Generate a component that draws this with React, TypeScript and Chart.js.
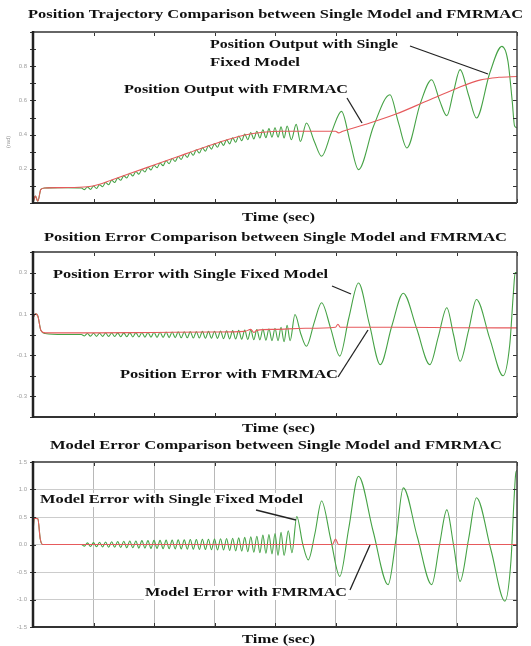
import React, { useEffect, useRef } from "react";
import { Chart, registerables } from "chart.js";
Chart.register(...registerables);

// ---------- data (time in sec, value) ----------
const timeTicks = [0, 1, 2, 3, 4, 5, 6, 7, 8];

const posFmrmac: [number, number][] = [
  [0, 0], [0.04, 0.04], [0.08, 0.01], [0.13, 0.08], [0.2, 0.088], [0.5, 0.09], [0.9, 0.095],
  [1.1, 0.11], [1.3, 0.135], [1.6, 0.172], [2.0, 0.222], [2.4, 0.272], [2.8, 0.322],
  [3.2, 0.368], [3.5, 0.398], [3.8, 0.414], [4.1, 0.42], [4.5, 0.42], [5.0, 0.42],
  [5.05, 0.41], [5.12, 0.42], [5.5, 0.46], [6.0, 0.52], [6.5, 0.595], [7.0, 0.67],
  [7.4, 0.72], [7.7, 0.735], [8.0, 0.74],
];

const posFixed: [number, number][] = [
  [0, 0], [0.04, 0.04], [0.08, 0.01], [0.13, 0.08], [0.2, 0.088], [0.5, 0.09], [0.8, 0.088],
  [0.85, 0.078], [0.9, 0.094], [0.95, 0.079], [1.0, 0.099], [1.05, 0.085], [1.1, 0.107],
  [1.15, 0.095], [1.2, 0.12], [1.25, 0.107], [1.3, 0.133], [1.35, 0.12], [1.4, 0.146],
  [1.45, 0.133], [1.5, 0.16], [1.55, 0.146], [1.6, 0.174], [1.65, 0.158], [1.7, 0.184],
  [1.75, 0.168], [1.8, 0.196], [1.85, 0.181], [1.9, 0.209], [1.95, 0.193], [2.0, 0.221],
  [2.05, 0.206], [2.1, 0.234], [2.15, 0.218], [2.2, 0.247], [2.25, 0.23], [2.3, 0.26],
  [2.35, 0.243], [2.4, 0.272], [2.45, 0.255], [2.5, 0.285], [2.55, 0.267], [2.6, 0.298],
  [2.65, 0.279], [2.7, 0.311], [2.75, 0.292], [2.8, 0.323], [2.85, 0.303], [2.9, 0.336],
  [2.95, 0.315], [3.0, 0.347], [3.05, 0.326], [3.1, 0.359], [3.15, 0.337], [3.2, 0.37],
  [3.25, 0.346], [3.3, 0.381], [3.35, 0.355], [3.4, 0.392], [3.45, 0.364], [3.5, 0.403],
  [3.55, 0.37], [3.6, 0.412], [3.65, 0.375], [3.7, 0.42], [3.75, 0.38], [3.8, 0.428],
  [3.85, 0.382], [3.9, 0.435], [3.95, 0.385], [4.0, 0.44], [4.05, 0.385], [4.1, 0.445],
  [4.15, 0.38], [4.2, 0.45], [4.27, 0.37], [4.35, 0.46], [4.42, 0.36], [4.52, 0.468],
  [4.65, 0.36], [4.77, 0.273], [4.93, 0.41], [5.1, 0.536], [5.24, 0.36], [5.38, 0.195],
  [5.63, 0.45], [5.9, 0.633], [6.04, 0.47], [6.18, 0.322], [6.4, 0.58], [6.59, 0.721],
  [6.72, 0.6], [6.84, 0.51], [6.95, 0.65], [7.06, 0.78], [7.2, 0.63], [7.33, 0.497],
  [7.55, 0.76], [7.75, 0.916], [7.85, 0.83], [7.92, 0.6], [7.96, 0.45], [8.0, 0.44],
];

const posErrFmrmac: [number, number][] = [
  [0, 0.08], [0.04, 0.1], [0.08, 0.09], [0.13, 0.02], [0.2, 0.008], [1.0, 0.008],
  [2.0, 0.01], [3.0, 0.012], [3.5, 0.015], [3.6, 0.025], [3.65, 0.01], [3.7, 0.02],
  [4.0, 0.025], [4.5, 0.03], [5.0, 0.035], [5.04, 0.05], [5.08, 0.035], [6.0, 0.035],
  [7.0, 0.033], [8.0, 0.032],
];

const posErrFixed: [number, number][] = [
  [0, 0.08], [0.04, 0.1], [0.08, 0.09], [0.13, 0.02], [0.2, 0.005], [0.5, 0.0], [0.8, 0.0],
  [0.85, -0.007], [0.9, 0.005], [0.95, -0.008], [1.0, 0.006], [1.05, -0.009], [1.1, 0.006],
  [1.15, -0.009], [1.2, 0.007], [1.25, -0.01], [1.3, 0.007], [1.35, -0.01], [1.4, 0.008],
  [1.45, -0.011], [1.5, 0.008], [1.55, -0.011], [1.6, 0.009], [1.65, -0.012], [1.7, 0.009],
  [1.75, -0.012], [1.8, 0.01], [1.85, -0.013], [1.9, 0.01], [1.95, -0.013], [2.0, 0.011],
  [2.05, -0.014], [2.1, 0.011], [2.15, -0.014], [2.2, 0.012], [2.25, -0.015], [2.3, 0.012],
  [2.35, -0.015], [2.4, 0.013], [2.45, -0.016], [2.5, 0.013], [2.55, -0.016], [2.6, 0.014],
  [2.65, -0.017], [2.7, 0.014], [2.75, -0.017], [2.8, 0.015], [2.85, -0.018], [2.9, 0.015],
  [2.95, -0.018], [3.0, 0.016], [3.05, -0.019], [3.1, 0.017], [3.15, -0.02], [3.2, 0.018],
  [3.25, -0.021], [3.3, 0.019], [3.35, -0.022], [3.4, 0.02], [3.45, -0.023], [3.5, 0.021],
  [3.55, -0.024], [3.6, 0.022], [3.65, -0.025], [3.7, 0.024], [3.75, -0.026], [3.8, 0.026],
  [3.85, -0.028], [3.9, 0.028], [3.95, -0.03], [4.0, 0.03], [4.05, -0.03], [4.1, 0.035],
  [4.15, -0.035], [4.2, 0.045], [4.25, -0.03], [4.33, 0.097], [4.43, 0.0], [4.52, -0.057],
  [4.65, 0.06], [4.77, 0.154], [4.92, 0.03], [5.07, -0.105], [5.22, 0.08], [5.38, 0.25],
  [5.56, 0.05], [5.74, -0.146], [5.93, 0.04], [6.12, 0.2], [6.34, 0.03], [6.56, -0.146],
  [6.7, -0.01], [6.84, 0.13], [6.95, 0.0], [7.06, -0.13], [7.2, 0.02], [7.33, 0.17],
  [7.55, -0.02], [7.77, -0.2], [7.88, -0.05], [7.94, 0.2], [7.97, 0.3], [8.0, 0.3],
];

const modErrFmrmac: [number, number][] = [
  [0, 0.2], [0.02, 0.48], [0.08, 0.47], [0.12, 0.1], [0.16, 0.0], [4.95, 0.0],
  [5.0, 0.1], [5.05, 0.0], [8.0, 0.0],
];

const modErrFixed: [number, number][] = [
  [0, 0.2], [0.02, 0.48], [0.08, 0.47], [0.12, 0.1], [0.16, 0.0], [0.8, 0.0],
  [0.85, -0.03], [0.9, 0.03], [0.95, -0.035], [1.0, 0.035], [1.05, -0.04], [1.1, 0.04],
  [1.15, -0.045], [1.2, 0.045], [1.25, -0.05], [1.3, 0.05], [1.35, -0.05], [1.4, 0.055],
  [1.45, -0.055], [1.5, 0.06], [1.55, -0.06], [1.6, 0.065], [1.65, -0.06], [1.7, 0.065],
  [1.75, -0.065], [1.8, 0.07], [1.85, -0.065], [1.9, 0.07], [1.95, -0.07], [2.0, 0.075],
  [2.05, -0.07], [2.1, 0.075], [2.15, -0.075], [2.2, 0.08], [2.25, -0.075], [2.3, 0.08],
  [2.35, -0.08], [2.4, 0.085], [2.45, -0.08], [2.5, 0.085], [2.55, -0.085], [2.6, 0.09],
  [2.65, -0.085], [2.7, 0.09], [2.75, -0.09], [2.8, 0.095], [2.85, -0.09], [2.9, 0.095],
  [2.95, -0.095], [3.0, 0.1], [3.05, -0.1], [3.1, 0.105], [3.15, -0.1], [3.2, 0.11],
  [3.25, -0.11], [3.3, 0.115], [3.35, -0.115], [3.4, 0.12], [3.45, -0.12], [3.5, 0.13],
  [3.55, -0.13], [3.6, 0.14], [3.65, -0.14], [3.7, 0.15], [3.75, -0.15], [3.8, 0.17],
  [3.85, -0.16], [3.9, 0.18], [3.95, -0.17], [4.0, 0.2], [4.05, -0.2], [4.1, 0.22],
  [4.15, -0.2], [4.22, 0.25], [4.28, -0.15], [4.36, 0.51], [4.46, 0.0], [4.55, -0.28],
  [4.66, 0.2], [4.77, 0.79], [4.92, 0.1], [5.07, -0.58], [5.22, 0.3], [5.38, 1.24],
  [5.62, 0.25], [5.87, -0.73], [6.0, 0.1], [6.12, 1.03], [6.35, 0.15], [6.59, -0.73],
  [6.72, 0.0], [6.84, 0.63], [6.95, 0.0], [7.06, -0.67], [7.2, 0.1], [7.33, 0.85],
  [7.57, -0.1], [7.8, -1.03], [7.9, -0.3], [7.95, 0.8], [7.98, 1.3], [8.0, 1.35],
];

// ---------- styling / layout ----------
const RED = "#e65a5c";
const GREEN = "#45a245";
const SERIF = '"Liberation Serif", "Times New Roman", serif';

type TextItem = { text: string; x0: number; x1: number; y: number; bg?: boolean };
type Arrow = [number, number, number, number];

const overlayPlugin = {
  id: "overlay",
  afterDatasetsDraw(chart: any, _a: any, opts: any) {
    const { ctx, chartArea: a, scales } = chart;
    const xs = scales.x;
    const ys = scales.y;
    ctx.save();
    ctx.strokeStyle = "#333";
    ctx.lineWidth = 1;
    ctx.beginPath();
    xs.ticks.forEach((t: any) => {
      const px = Math.round(xs.getPixelForValue(t.value)) + 0.5;
      ctx.moveTo(px, a.top);
      ctx.lineTo(px, a.top + 4);
      ctx.moveTo(px, a.bottom);
      ctx.lineTo(px, a.bottom - 4);
    });
    ys.ticks.forEach((t: any) => {
      const py = Math.round(ys.getPixelForValue(t.value)) + 0.5;
      ctx.moveTo(a.left - 3, py);
      ctx.lineTo(a.left + 3, py);
      ctx.moveTo(a.right, py);
      ctx.lineTo(a.right - 4, py);
    });
    ctx.stroke();
    const line = (x1: number, y1: number, x2: number, y2: number, c: string, w: number) => {
      ctx.strokeStyle = c;
      ctx.lineWidth = w;
      ctx.beginPath();
      ctx.moveTo(x1, y1);
      ctx.lineTo(x2, y2);
      ctx.stroke();
    };
    line(a.left, a.top, a.right, a.top, "#666", 2);
    line(a.left, a.bottom, a.right, a.bottom, "#333", 2);
    line(a.right, a.top, a.right, a.bottom, "#444", 1.5);
    line(a.left, a.top - 1, a.left, a.bottom + 1, "#222", 2.5);
    ctx.restore();
  },
  afterDraw(chart: any, _a: any, opts: any) {
    const ctx = chart.ctx;
    const off = opts.top || 0;
    ctx.save();
    (opts.arrows || []).forEach((ar: Arrow) => {
      ctx.strokeStyle = "#222";
      ctx.lineWidth = 1.3;
      ctx.beginPath();
      ctx.moveTo(ar[0], ar[1] - off);
      ctx.lineTo(ar[2], ar[3] - off);
      ctx.stroke();
    });
    (opts.texts || []).forEach((t: TextItem) => {
      ctx.save();
      ctx.font = `bold 13px ${SERIF}`;
      const w = ctx.measureText(t.text).width;
      const sx = (t.x1 - t.x0) / w;
      const y = t.y - off;
      if (t.bg) {
        ctx.fillStyle = "#fff";
        ctx.fillRect(t.x0 - 1, y - 7, t.x1 - t.x0 + 2, 14);
      }
      ctx.translate(t.x0, y);
      ctx.scale(sx, 1);
      ctx.textBaseline = "middle";
      ctx.textAlign = "left";
      ctx.fillStyle = "#111";
      ctx.fillText(t.text, 0, 0);
      ctx.restore();
    });
    if (opts.yTitle) {
      ctx.save();
      ctx.translate(opts.yTitle.x, opts.yTitle.y - off);
      ctx.rotate(-Math.PI / 2);
      ctx.font = `6px "Liberation Sans", sans-serif`;
      ctx.fillStyle = "#999";
      ctx.textAlign = "center";
      ctx.textBaseline = "middle";
      ctx.fillText(opts.yTitle.text, 0, 0);
      ctx.restore();
    }
    ctx.restore();
  },
};

type PanelCfg = {
  top: number;
  height: number;
  areaTop: number;
  areaBottom: number;
  yMin: number;
  yMax: number;
  yStep: number;
  yLabel: (v: number) => string;
  grid: boolean;
  fixed: [number, number][];
  fmrmac: [number, number][];
  texts: TextItem[];
  arrows: Arrow[];
  yTitle?: { text: string; x: number; y: number };
};

const panels: PanelCfg[] = [
  {
    top: 0, height: 226, areaTop: 32, areaBottom: 203,
    yMin: 0, yMax: 1, yStep: 0.1,
    yLabel: (v) => { const k = Math.round(v * 10); return [2, 4, 6, 8].includes(k) ? (k / 10).toFixed(1) : ""; },
    grid: false, fixed: posFixed, fmrmac: posFmrmac,
    texts: [
      { text: "Position Trajectory Comparison between Single Model and FMRMAC", x0: 28, x1: 523, y: 15 },
      { text: "Position Output with Single", x0: 210, x1: 398, y: 45 },
      { text: "Fixed Model", x0: 210, x1: 300, y: 63 },
      { text: "Position Output with FMRMAC", x0: 124, x1: 348, y: 90 },
      { text: "Time (sec)", x0: 242, x1: 315, y: 218 },
    ],
    arrows: [[410, 46, 488, 74], [347, 98, 362, 123]],
    yTitle: { text: "(rad)", x: 8, y: 142 },
  },
  {
    top: 226, height: 210, areaTop: 252, areaBottom: 417,
    yMin: -0.4, yMax: 0.4, yStep: 0.1,
    yLabel: (v) => { const k = Math.round(v * 10); return Math.abs(k) % 2 === 1 ? (k / 10).toFixed(1) : ""; },
    grid: false, fixed: posErrFixed, fmrmac: posErrFmrmac,
    texts: [
      { text: "Position Error Comparison between Single Model and FMRMAC", x0: 44, x1: 507, y: 238 },
      { text: "Position Error with Single Fixed Model", x0: 53, x1: 328, y: 275 },
      { text: "Position Error with FMRMAC", x0: 120, x1: 338, y: 375 },
      { text: "Time (sec)", x0: 242, x1: 315, y: 429 },
    ],
    arrows: [[332, 286, 351, 294], [338, 377, 368, 330]],
  },
  {
    top: 436, height: 210, areaTop: 462, areaBottom: 627,
    yMin: -1.5, yMax: 1.5, yStep: 0.5,
    yLabel: (v) => (Math.round(v * 10) / 10).toFixed(1),
    grid: true, fixed: modErrFixed, fmrmac: modErrFmrmac,
    texts: [
      { text: "Model Error Comparison between Single Model and FMRMAC", x0: 50, x1: 502, y: 446 },
      { text: "Model Error with Single Fixed Model", x0: 40, x1: 303, y: 500, bg: true },
      { text: "Model Error with FMRMAC", x0: 145, x1: 347, y: 593, bg: true },
      { text: "Time (sec)", x0: 242, x1: 315, y: 640 },
    ],
    arrows: [[256, 510, 296, 520], [350, 590, 370, 545]],
  },
];

function Panel({ cfg }: { cfg: PanelCfg }) {
  const ref = useRef<HTMLCanvasElement>(null);
  useEffect(() => {
    const xAxisH = cfg.top + cfg.height - cfg.areaBottom;
    const chart = new Chart(ref.current as HTMLCanvasElement, {
      type: "line",
      data: {
        datasets: [
          {
            data: cfg.fmrmac.map(([x, y]) => ({ x, y })),
            borderColor: RED, borderWidth: 1.1, pointRadius: 0,
            cubicInterpolationMode: "monotone", order: 0,
          },
          {
            data: cfg.fixed.map(([x, y]) => ({ x, y })),
            borderColor: GREEN, borderWidth: 1.1, pointRadius: 0,
            cubicInterpolationMode: "monotone", order: 1,
          },
        ],
      },
      options: {
        animation: false,
        responsive: false,
        maintainAspectRatio: false,
        events: [],
        layout: { padding: { top: cfg.areaTop - cfg.top, right: 14, bottom: 0, left: 0 } },
        plugins: {
          legend: { display: false },
          tooltip: { enabled: false },
          title: { display: false },
          overlay: { texts: cfg.texts, arrows: cfg.arrows, top: cfg.top, yTitle: cfg.yTitle },
        } as any,
        scales: {
          x: {
            type: "linear", min: 0, max: 8,
            afterBuildTicks: (s: any) => { s.ticks = timeTicks.map((v) => ({ value: v })); },
            ticks: { display: false },
            grid: { display: cfg.grid, drawTicks: false, color: "#b8b8b8", lineWidth: 1 },
            border: { display: false },
            afterFit: (s: any) => { s.height = xAxisH; },
          },
          y: {
            type: "linear", min: cfg.yMin, max: cfg.yMax,
            ticks: {
              stepSize: cfg.yStep, autoSkip: false, padding: 6,
              font: { size: 6, family: '"Liberation Sans", sans-serif' }, color: "#a0a0a0",
              callback: (v: any) => cfg.yLabel(Number(v)),
            },
            grid: { display: cfg.grid, drawTicks: false, color: "#cccccc", lineWidth: 1 },
            border: { display: false },
            afterFit: (s: any) => { s.width = 33; },
          },
        },
      },
      plugins: [overlayPlugin],
    } as any);
    return () => chart.destroy();
  }, []);
  return (
    <canvas
      ref={ref}
      width={531}
      height={cfg.height}
      style={{ position: "absolute", left: 0, top: cfg.top, width: 531, height: cfg.height }}
    />
  );
}

export default function App() {
  return (
    <div style={{ position: "absolute", left: 0, top: 0, width: 531, height: 646, background: "#fff" }}>
      {panels.map((p, i) => (
        <Panel key={i} cfg={p} />
      ))}
    </div>
  );
}
